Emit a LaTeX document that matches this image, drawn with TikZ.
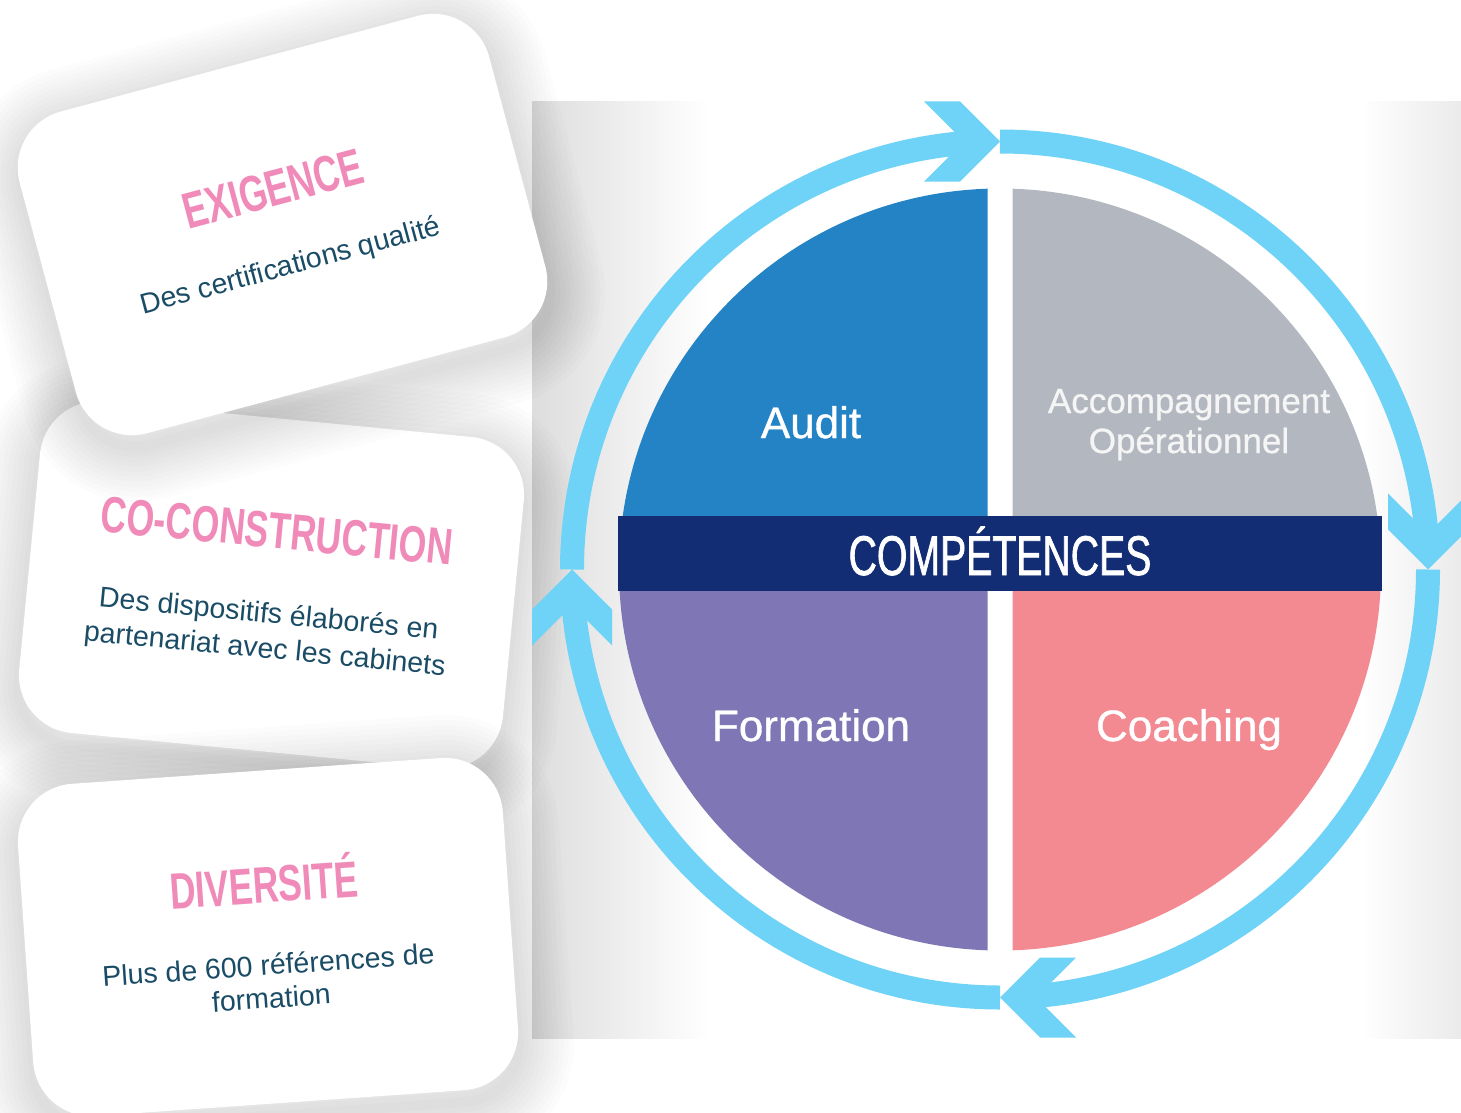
\documentclass[tikz,border=0pt]{standalone}
\usepackage{fontspec}
\setmainfont{Liberation Sans}
\newfontfamily\condfont[FakeStretch=0.7]{Liberation Sans}
\newfontfamily\condmed[FakeStretch=0.7,FakeBold=1.2]{Liberation Sans}
\newfontfamily\medfont[FakeBold=0.8]{Liberation Sans}
\usetikzlibrary{calc}
\definecolor{ringblue}{HTML}{6FD3F7}
\definecolor{auditblue}{HTML}{2483C5}
\definecolor{accgray}{HTML}{B3B8C0}
\definecolor{formpurple}{HTML}{7F77B5}
\definecolor{coachpink}{HTML}{F38A92}
\definecolor{navyband}{HTML}{132D75}
\definecolor{pinktxt}{HTML}{F08BB9}
\definecolor{tealtxt}{HTML}{1A4C66}
\definecolor{panelgray}{HTML}{DDDDDD}
\tikzset{
  cardtitle/.style={text=pinktxt, font=\condfont\bfseries\fontsize{51}{60}\selectfont, inner sep=0pt},
  cardtext/.style={text=tealtxt, font=\fontsize{28.5}{34}\selectfont, inner sep=0pt},
  pielabel/.style={text=white, font=\medfont\fontsize{44}{52}\selectfont, inner sep=0pt},
  pielabelsmall/.style={text=white!96!black, font=\medfont\fontsize{35}{40}\selectfont, inner sep=0pt},
  ringseg/.style={draw=ringblue, line width=24pt},
}
\newcommand\drawcard[3]{%
  \begin{scope}[shift={(#1,#2)}, rotate=#3]
    \foreach \w in {10,20,...,110}
      \draw[black, opacity=0.01, line width=\w, rounded corners=58pt] (-243,-154.5) rectangle (243,178.5);
    \fill[white, rounded corners=58pt] (-243,-166.5) rectangle (243,166.5);
  \end{scope}}
\begin{document}
\begin{tikzpicture}[x=1pt,y=-1pt]
\useasboundingbox (0,0) rectangle (1461,1113);
\fill[white] (0,0) rectangle (1461,1113);
% background panel
\shade[left color=panelgray, right color=white] (532,102) rectangle (710,1038);
\shade[left color=white, right color=black!8] (1360,102) rectangle (1461,1038);
% cards
\drawcard{271.5}{585}{-5.5}
\drawcard{268}{937}{4}
\drawcard{282.5}{224.5}{15}
% card texts
\node[cardtitle, rotate=15] (t1) at (273,189) {EXIGENCE};
\node[cardtext, rotate=15] (s1) at (291,267) {Des certifications qualité};
\node[cardtitle, rotate=-5.5] (t2) at (277,531) {CO-CONSTRUCTION};
\node[cardtext, rotate=-5.5, anchor=base] (s2a) at (268,623) {Des dispositifs élaborés en};
\node[cardtext, rotate=-5.5, anchor=base] (s2b) at (264,658) {partenariat avec les cabinets};
\node[cardtitle, rotate=4, anchor=base] (t3) at (265,903) {DIVERSITÉ};
\node[cardtext, rotate=4, anchor=base] (s3a) at (269,975) {Plus de 600 références de};
\node[cardtext, rotate=4, anchor=base] (s3b) at (272,1008) {formation};
% pie quadrants
\begin{scope}
  \clip (600,150) rectangle (987.5,569.5);
  \fill[auditblue] (1000,569.5) circle[radius=381];
\end{scope}
\begin{scope}
  \clip (1012.5,150) rectangle (1400,569.5);
  \fill[accgray] (1000,569.5) circle[radius=381];
\end{scope}
\begin{scope}
  \clip (600,569.5) rectangle (987.5,990);
  \fill[formpurple] (1000,569.5) circle[radius=381];
\end{scope}
\begin{scope}
  \clip (1012.5,569.5) rectangle (1400,990);
  \fill[coachpink] (1000,569.5) circle[radius=381];
\end{scope}
% band
\fill[navyband] (618,516) rectangle (1382,591);
\node[text=white, font=\condmed\fontsize{56}{60}\selectfont, inner sep=0pt, anchor=base] (comp) at (1000,575) {COMPÉTENCES};
% labels
\node[pielabel, anchor=base] (audit) at (811,438) {Audit};
\node[pielabelsmall, anchor=base] (acc1) at (1189,413) {Accompagnement};
\node[pielabelsmall, anchor=base] (acc2) at (1189,453) {Opérationnel};
\node[pielabel, anchor=base] (form) at (811,741) {Formation};
\node[pielabel, anchor=base] (coach) at (1189,741) {Coaching};
% ring
\foreach \p in {270,0,90,180} {
  \draw[ringseg] ({1000+428*cos(\p)},{569.5+428*sin(\p)}) arc[start angle=\p, end angle=\p+86, radius=428];
}
\foreach \p in {0,90,180,270} {
  \begin{scope}[shift={({1000+428*cos(\p)},{569.5+428*sin(\p)})}, rotate=-(\p+90)]
    \fill[ringblue] (0,0) -- (-40,-40) -- (-76,-40) -- (-36,0) -- (-76,40) -- (-40,40) -- cycle;
  \end{scope}
}
\end{tikzpicture}
\end{document}
